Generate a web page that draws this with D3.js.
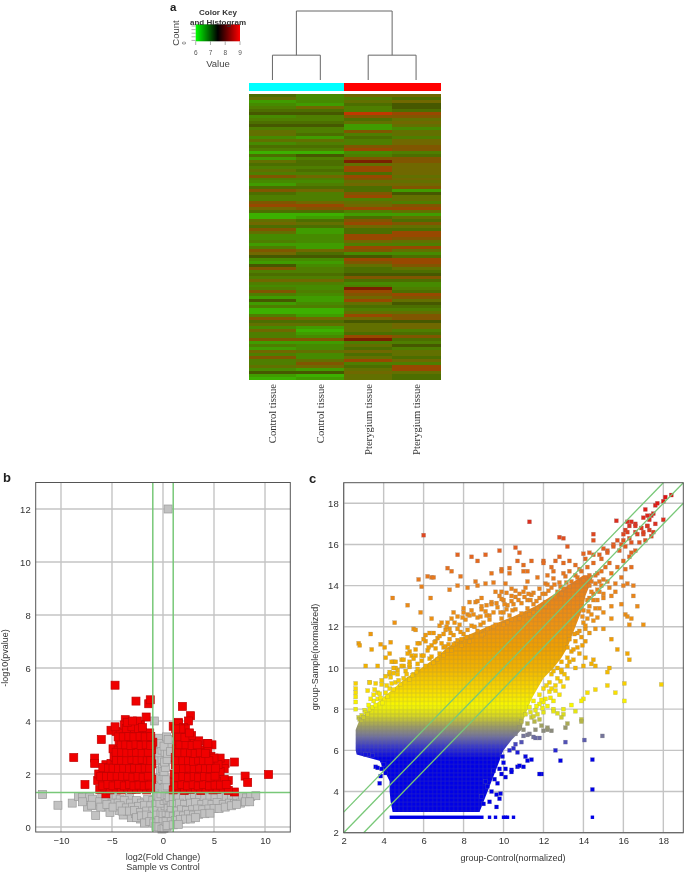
<!DOCTYPE html>
<html><head><meta charset="utf-8">
<script src="https://cdn.jsdelivr.net/npm/d3@7"></script>
<style>html,body{margin:0;padding:0;background:#fff}svg{display:block;filter:blur(0.45px)}text{font-family:"Liberation Sans",Arial,sans-serif;fill:#333}</style>
</head><body><svg id="c" width="685" height="873"></svg>
<script>
// ---------- Panel a data ----------
const sampleLabels = ["Control tissue","Control tissue","Pterygium tissue","Pterygium tissue"];
const groupColors = ["#00ffff","#00ffff","#ff0000","#ff0000"];
const keyTicks = [6,7,8,9];
const heatLevels = [0,1,2,3,4,5,6,7,8,9,10,11];
const heatColors = ["#3cb000","#409c00","#468a00","#4e7e00","#4c6e00","#627000","#706800","#805600","#984800","#c03800","#465800","#7a2000"];
const col1 = [4,5,1,2,3,4,10,2,3,4,10,3,5,5,2,5,2,4,3,0,4,1,5,4,
 3,5,3,7,3,2,1,4,7,4,3,3,7,8,6,4,0,0,5,6,4,7,5,2,
 2,3,1,3,7,6,10,2,1,10,7,3,4,3,6,3,2,3,7,3,1,10,1,3,
 0,0,3,7,4,5,2,6,3,3,7,1,3,1,6,3,7,3,3,5,2,10,1,0];
const col2 = [2,2,2,1,6,4,10,3,3,4,10,3,3,4,1,5,3,4,3,0,10,3,4,4,
 3,4,3,6,3,2,3,4,6,3,3,3,6,8,7,4,0,1,4,5,4,1,1,2,
 2,2,1,1,6,4,10,2,1,2,3,3,4,3,6,3,2,2,3,2,1,1,2,3,
 0,0,1,6,4,5,1,0,1,2,7,1,2,2,5,2,2,5,7,6,1,10,0,1];
const col3 = [6,3,5,4,3,3,9,7,4,5,1,1,7,3,4,3,3,7,8,2,3,7,11,5,
 8,8,4,8,7,5,6,4,4,7,8,3,5,6,8,3,1,4,7,8,6,4,4,8,
 8,6,3,8,7,2,10,8,7,5,4,4,10,7,4,2,3,11,8,7,6,8,5,4,
 3,5,8,6,10,5,5,5,4,8,11,3,5,4,6,4,5,8,3,4,5,6,5,5];
const col4 = [6,4,6,10,10,4,8,7,5,6,5,2,5,5,3,6,6,7,7,3,4,7,7,6,
 6,6,6,5,6,5,6,7,1,10,5,5,3,7,8,5,1,5,4,7,5,4,8,8,
 7,5,3,8,5,2,4,8,8,7,5,4,10,7,4,2,2,3,4,8,7,5,10,4,
 3,5,7,7,10,6,6,3,4,7,4,3,10,3,5,5,4,6,3,8,8,5,4,4];
// dendrogram merges: [left position, right position, base height, top height]
const merges = [[0.5,1.5,0,0.36],[2.5,3.5,0,0.36],[1,3,0.36,1]];

// ---------- Panel b data ----------
const volcanoXTicks = [-10,-5,0,5,10];
const volcanoYTicks = [0,2,4,6,8,10,12];
const redPts = [[-4.7,5.35],[-2.65,4.75],[-1.4,4.65],[-1.25,4.8],[1.9,4.55],[2.7,4.2],[2.5,4.0],[1.5,3.95],[-1.65,4.15],[-3.7,4.05],[-8.75,2.62],[-6.7,2.6],[-6.7,2.4],[-6.05,3.3],[-7.65,1.6],[10.35,1.98],[7.0,2.45],[8.05,1.92],[8.3,1.68],[7.0,1.32],[6.1,2.4],[5.6,2.6],[6.0,2.2],[6.4,1.75],[-5.6,1.25],[4.8,3.1],[4.3,3.15],
 [-6.2,1.42],[-5.7,1.5],[-5.2,1.4],[-4.6,1.45],[-4.1,1.4],[-3.5,1.48],[-3.1,1.42],[-2.6,1.42],[-2.1,1.45],[-1.6,1.4],[-1.2,1.48],
 [-6.4,1.75],[-5.9,1.7],[-5.4,1.78],[-4.9,1.72],[-4.3,1.8],[-3.9,1.7],[-3.4,1.78],[-2.9,1.72],[-2.4,1.7],[-1.9,1.76],[-1.4,1.72],[-1.1,1.8],
 [-6.3,2.0],[-5.8,2.1],[-5.3,2.02],[-4.8,2.08],[-4.2,2.0],[-3.7,2.05],[-3.2,2.1],[-2.7,2.0],[-2.2,2.06],[-1.7,2.02],[-1.2,2.1],
 [-5.6,2.35],[-5.1,2.4],[-4.7,2.32],[-4.1,2.38],[-3.6,2.3],[-3.0,2.42],[-2.6,2.35],[-2.0,2.4],[-1.5,2.34],[-1.1,2.38],
 [-4.8,2.65],[-4.3,2.7],[-3.8,2.62],[-3.3,2.68],[-2.8,2.7],[-2.3,2.64],[-1.8,2.7],[-1.2,2.62],
 [-4.9,2.95],[-4.4,2.9],[-3.9,3.0],[-3.3,2.92],[-2.9,2.98],[-2.3,2.9],[-1.7,2.96],[-1.1,2.92],
 [-4.3,3.25],[-3.9,3.2],[-3.4,3.3],[-2.9,3.2],[-2.4,3.28],[-1.9,3.22],[-1.4,3.3],[-1.0,3.2],
 [-5.1,3.65],[-4.6,3.6],[-4.2,3.55],[-3.6,3.5],[-3.1,3.6],[-2.5,3.52],[-2.0,3.58],[-1.3,3.55],
 [-4.7,3.78],[-3.8,3.85],[-3.3,3.95],[-2.8,3.7],[-2.2,3.85],[-2.5,4.0],
 [-5.9,1.55],[-5.4,1.6],[-4.9,1.55],[-4.35,1.6],[-3.8,1.55],[-3.3,1.6],[-2.85,1.55],[-2.35,1.58],[-1.85,1.55],[-1.35,1.58],
 [-6.1,1.9],[-5.55,1.9],[-5.05,1.9],[-4.5,1.92],[-3.95,1.9],[-3.45,1.92],[-2.95,1.88],[-2.45,1.9],[-1.95,1.88],[-1.45,1.92],
 [-5.9,2.25],[-5.35,2.22],[-4.9,2.22],[-4.35,2.2],[-3.85,2.22],[-3.3,2.2],[-2.8,2.22],[-2.3,2.2],[-1.75,2.22],[-1.3,2.22],
 [-4.55,2.52],[-4.05,2.52],[-3.55,2.5],[-3.05,2.55],[-2.55,2.52],[-2.05,2.55],[-1.55,2.52],[-1.2,2.5],
 [-4.6,2.82],[-4.05,2.82],[-3.55,2.8],[-3.05,2.82],[-2.6,2.82],[-2.05,2.8],[-1.45,2.82],
 [-4.1,3.1],[-3.65,3.1],[-3.15,3.08],[-2.65,3.12],[-2.15,3.08],[-1.65,3.1],[-1.2,3.08],
 [-4.4,3.4],[-3.9,3.4],[-3.35,3.42],[-2.85,3.4],[-2.25,3.42],[-1.75,3.4],[-1.2,3.42],
 [-3.6,3.72],[-3.05,3.78],[-2.4,3.72],[-2.0,3.75],[-3.5,3.95],[-3.0,4.0],
 [1.0,1.4],[1.6,1.45],[2.1,1.38],[2.7,1.42],[3.2,1.45],[3.7,1.38],[4.2,1.45],[4.9,1.4],[5.3,1.42],[5.9,1.45],[6.4,1.38],
 [1.1,1.7],[1.7,1.75],[2.2,1.72],[2.8,1.78],[3.3,1.7],[3.8,1.76],[4.4,1.7],[4.9,1.78],[5.4,1.72],[6.0,1.8],
 [1.1,2.0],[1.5,2.05],[2.1,2.02],[2.6,2.08],[3.2,2.0],[3.7,2.06],[4.2,2.0],[4.7,2.08],[5.2,2.02],[5.6,2.1],
 [1.2,2.35],[1.8,2.3],[2.3,2.38],[2.8,2.32],[3.3,2.38],[3.9,2.3],[4.4,2.36],[4.9,2.3],[5.4,2.35],
 [1.2,2.62],[1.6,2.68],[2.2,2.6],[2.7,2.66],[3.2,2.6],[3.7,2.68],[4.2,2.62],[4.7,2.66],[5.0,2.6],
 [1.3,2.95],[1.9,2.9],[2.4,2.98],[2.9,2.92],[3.4,2.96],[3.9,2.9],[4.4,2.95],
 [1.4,3.25],[2.0,3.22],[2.6,3.28],[3.1,3.2],[3.5,3.25],[4.4,3.15],
 [1.3,3.55],[1.8,3.5],[2.4,3.48],[2.8,3.45],
 [1.0,3.8],[1.5,3.9],[2.0,3.75],[2.2,3.7],
 [1.3,1.55],[1.85,1.6],[2.4,1.55],[2.95,1.6],[3.45,1.55],[3.95,1.6],[4.55,1.55],[5.1,1.58],[5.65,1.58],[6.2,1.6],
 [1.4,1.88],[1.95,1.9],[2.5,1.88],[3.05,1.9],[3.5,1.88],[4.05,1.9],[4.6,1.88],[5.1,1.92],
 [1.4,2.2],[2.0,2.2],[2.55,2.22],[3.05,2.2],[3.6,2.22],[4.15,2.2],[4.65,2.2],[5.15,2.22],
 [1.4,2.5],[1.95,2.5],[2.5,2.5],[3.0,2.48],[3.5,2.52],[3.95,2.5],[4.5,2.5],
 [1.55,2.8],[2.15,2.8],[2.7,2.8],[3.15,2.78],[3.65,2.8],[4.15,2.78],
 [1.65,3.1],[2.25,3.1],[2.85,3.08],[3.35,3.1],
 [1.55,3.4],[2.15,3.38],[2.6,3.55],[1.75,3.7],[1.25,3.7]];
const grayPts = [[-11.8,1.22],[-10.3,0.82],[-8.9,0.9],[-8.3,1.15],[-7.9,1.12],[-7.4,0.75],[-7.2,1.12],[-6.6,0.43],[-6.5,0.8],[-6.0,1.12],[-5.6,0.75],[-5.3,1.1],[-5.2,0.55],[-4.8,0.85],[-4.6,1.12],[-4.3,0.62],[-4.2,1.05],[-3.9,0.45],[-3.7,0.82],[-3.5,0.6],[-3.3,1.1],[-3.1,0.35],[-2.9,0.8],[-2.7,0.5],[-2.4,0.95],[-2.2,0.3],[-2.0,0.6],[-1.8,0.2],[-1.7,0.75],[-1.5,0.4],[-1.3,0.95],[-1.0,0.22],[-0.8,0.6],
 [-7.9,0.95],[-6.9,1.05],[-6.2,0.95],[-5.6,0.95],[-5.0,0.9],[-4.4,0.9],[-3.8,1.0],[-3.2,0.9],[-2.6,1.0],[-2.1,0.9],[-1.5,1.05],[-1.0,1.0],[-0.5,1.1],
 [-7.0,0.82],[-6.1,0.75],[-5.5,0.85],[-4.9,0.75],[-4.2,0.8],[-3.6,0.72],[-3.0,0.75],[-2.4,0.78],[-1.8,0.82],[-1.2,0.8],[-0.7,0.85],
 [-4.0,0.6],[-3.3,0.6],[-2.8,0.62],[-2.2,0.55],[-1.6,0.6],[-1.0,0.6],[-0.6,0.62],[-2.6,0.35],[-2.1,0.42],[-1.6,0.45],[-1.1,0.4],[-0.6,0.45],[-0.2,0.5],[-1.8,0.15],[-1.3,0.2],[-0.9,0.15],[-0.4,0.25],[0.0,0.2],[0.4,0.25],
 [-0.7,0.02],[-0.4,0.0],[-0.1,-0.08],[0.1,-0.05],[0.4,0.0],[0.7,0.08],[0.0,0.5],[0.3,0.55],[-0.1,0.75],[0.2,0.8],[0.5,0.75],[0.7,0.5],[-0.3,0.9],[0.1,1.0],[0.4,1.05],[0.8,0.9],
 [-0.6,1.2],[-0.4,1.15],[-0.2,1.25],[0.2,1.18],[0.4,1.22],[0.6,1.3],[-0.4,1.5],[-0.2,1.55],[0.0,1.45],[0.2,1.5],[0.4,1.55],[-0.3,1.85],[-0.1,1.8],[0.1,1.9],[0.3,1.78],[-0.25,2.15],[-0.05,2.2],[0.1,2.1],[0.25,2.25],[-0.35,2.5],[-0.1,2.55],[0.15,2.45],[0.4,2.55],[-0.6,2.85],[-0.35,2.8],[-0.1,2.9],[0.2,2.82],[0.45,2.78],[-0.6,3.15],[0.55,3.1],[-0.5,3.3],[-0.4,3.35],[-0.2,3.15],[0.1,3.05],[0.35,3.4],[0.5,3.3],
 [0.5,12],[-0.85,4.0],[0.75,2.85],
 [0.6,1.12],[1.0,1.1],[1.5,1.12],[2.0,1.15],[2.6,1.12],[3.1,1.15],[3.6,1.1],[4.1,1.15],[4.6,1.12],[5.1,1.1],[5.7,1.15],[6.2,1.1],[6.7,1.15],[7.2,1.12],[7.8,1.15],[8.2,1.1],[8.6,1.15],[9.1,1.18],
 [1.0,0.85],[1.6,0.9],[2.1,0.85],[2.7,0.9],[3.2,0.92],[3.8,0.85],[4.3,0.9],[4.8,0.85],[5.3,0.92],[5.9,0.85],[6.5,0.9],[7.0,0.88],[7.6,0.9],[8.1,0.95],[8.5,0.95],
 [0.8,0.62],[1.3,0.6],[1.8,0.65],[2.3,0.62],[2.9,0.65],[3.4,0.68],[3.9,0.65],[4.5,0.68],[5.0,0.7],[5.5,0.7],[6.1,0.75],[6.7,0.8],[7.2,0.85],
 [0.6,0.42],[1.0,0.4],[1.5,0.45],[2.0,0.42],[2.5,0.48],[3.0,0.45],[3.5,0.48],[4.1,0.5],[4.6,0.52],[0.3,0.2],[0.8,0.2],[1.2,0.25],[1.7,0.28],[2.2,0.3],[2.7,0.3],[3.2,0.35],[0.4,0.05],[1.0,0.08],[1.5,0.1]];

// ---------- Panel c data ----------
const scatterTicks = [2,4,6,8,10,12,14,16,18];
const cBandY  = [3,3.5,4,4.5,5,5.5,5.8,6,6.5,7,7.5,8,8.5,9,9.5,10,10.5,11,11.5,12,12.5,13,13.5,14,14.5];
const cBandX0 = [4.45,4.35,4.3,4.3,4.05,3.8,2.65,2.6,2.6,2.6,2.8,3.3,3.9,4.5,5.1,5.9,6.6,7.2,8.0,9.2,10.5,11.6,12.4,13.2,14.0];
const cBandX1 = [8.8,9.0,9.2,9.4,9.6,9.8,9.9,10.0,10.4,10.9,11.0,11.2,11.4,11.7,12.0,12.5,12.9,13.2,13.4,13.6,13.8,14.0,14.1,14.3,14.5];
const bottomRowX = [9.3,9.6,10.0,10.1,10.2,10.5,14.45];
const bottomRowSpan = [4.3,9.0];
const bottomRowY = 2.75;
const cColorY = [2,5.6,6.2,6.7,7.2,7.7,8.2,9,10,11,12,14,16,17,18.5];
const cColorC = ["#0000e6","#0000e6","#3a3ac8","#75759a","#a0a060","#d8d820","#f8f800","#f8d800","#f2b400","#f0a000","#ee9410","#e8801c","#e25a20","#dc3020","#e01010"];
const cOutliers = [[6.0,16.45],[11.3,17.1],[12.8,16.35],[13,16.3],[13.2,15.9],[14.5,16.5],[14.5,16.2],[15.65,17.15],[16.2,17.1],[16.4,17.1],[16.6,17],[17,17.3],[17.2,17.4],[17.4,17.4],[17.1,17.7],[17.6,17.9],[17.7,18],[18,18.1],[18.1,18.3],[18.4,18.4],[17.3,17.2],[17.5,17.5],[16.1,16.7],[16,16.5],[16.3,16.3],[16.7,16.5],[17.0,16.5],[17.3,16.7],[17.4,16.4],[17.2,16.9],[17.6,17],[18,17.2],[16.6,16.9],[16.3,16.9],
 [7.7,15.5],[8.4,15.4],[8.7,15.2],[9.1,15.5],[9.8,15.7],[10.6,15.85],[10.8,15.6],[10.7,15.2],[11,15],[11.4,15.2],[12,15.2],[12,15.1],[11.0,14.7],[11.2,14.7],[9.9,14.8],[9.9,14.7],[9.4,14.6],[10.3,14.85],[10.3,14.6],[7.2,14.85],[7.4,14.7],[6.2,14.45],[6.4,14.4],[6.5,14.4],[5.75,14.3],[5.9,13.95],[7.85,14.45],[7.3,13.8],[7.7,14.0],[8.2,13.9],[8.6,14.2],[8.7,14],[9.1,14.1],[9.5,14.15],[10.1,14.1],[4.45,13.4],[5.2,13.05],[6.35,13.4],[5.85,12.7],[4.55,12.2],[3.35,11.65],[2.75,11.2],[2.8,11.1],
 [12.4,14.9],[12.5,14.7],[12.6,15.2],[12.8,15.4],[13.0,15.1],[13.3,15.2],[13.6,15.0],[14.0,15.55],[14.1,15.3],[14.3,15.6],[14.5,15.5],[14.8,15.5],[15.0,15.8],[15.2,15.7],[15.5,16.0],[15.7,16.2],[15.9,16.0],[16.0,16.2],[16.2,16.6],[16.4,16.1],[16.6,16.6],[16.9,16.8],[17.0,16.6],[17.2,16.9],[17.5,16.6],
 [13.6,14.5],[13.9,14.7],[14.2,14.9],[14.5,15.1],[14.9,15.3],[15.2,15.6],[15.5,15.9],[15.8,15.7],[16.1,15.9],[16.4,15.6],[16.8,16.1],[17.1,16.2],
 [14.4,14.2],[14.6,14.5],[14.7,14.6],[14.9,14.7],[15.1,14.9],[15.3,15.1],[15.7,14.9],[16.0,15.2],[16.3,15.4],[16.6,15.7],[15.0,14.3],[15.4,14.6],[15.2,14.2],[14.9,14.0],[15.6,14.1],[15.9,14.4],[16.1,14.8],[16.4,14.9],[16.0,14.0],[16.2,14.1],[16.5,14.0],[15.6,13.7],[14.8,13.7],[14.5,13.6],[14.3,13.4],[14.7,13.3],[15.0,13.4],
 [17,12.1],[16.4,12.4],[16.1,12.6],[16.3,12.1],[16.2,12.5],[16.7,13],[15.9,13.1],[16.5,13.5],[15.4,13],[15.4,12.4],[15,12.7],[14.8,12.9],[15,11.9],[14.6,11.9],[15.7,10.9],[16.2,10.7],[16.3,10.4],[15.4,11.4],[15.3,10],[14.5,10.4],[14.1,10.5],[14.4,10.2],[14.6,10.1],[14,10.1],[13.2,11],[15.2,9.8],[14.2,8.8],[14.6,8.95],[15.2,9.15],[15.6,8.8],[16.05,9.25],[16.05,8.4],[17.9,9.2],[14,8.5],[13.9,8.4],[13.4,8.2],[13.6,7.9],[13,8],[13,7.75],[13.9,7.5],[13.9,7.4],[13.2,7.3],[13.1,7.1],[14.05,6.5],[14.95,6.7],[13.1,6.4],[12.6,6],[12.85,5.5],[14.45,5.55],[14.45,4.1],[11.9,4.85],[11.8,4.85],[11.4,5.55],[11.2,5.5],[11.1,5.7],[10.7,5.2],[10.8,5.25],[11,5.2],[10.4,5.05],[10.4,4.95],[10.1,5.1],[10.7,5.9],
 [11.2,6.75],[11.5,6.65],[11.6,6.6],[11.8,6.6],[12,6.95],[12.2,7.0],[12.4,6.95],[11.9,7.2],[12.2,7.1],[12.5,8.0],[12.7,7.8],[12.9,7.6],[12.5,7.9],[11.6,7.0],[11.3,6.8],[11.0,6.7],[10.9,6.4],[10.6,6.3],[10.5,6.1],[10.3,6.0],
 [9.2,4.25],[9.65,3.85],[9.8,3.65],[8.9,3.75],[9.3,3.5],[9.65,3.25],[9.0,3.4],[9.4,4.0],[9.85,3.9],[9.1,4.5],[9.55,4.6],[9.8,5.1],[10.0,5.4],[10.1,4.7],[9.9,4.85],[9.7,4.4],[9.5,5.0],[9.95,5.7],
 [3.85,4.75],[3.8,4.4],[3.6,5.2],[3.7,5.15],[3.9,5.1],[4.1,4.9],[4.0,5.3],[3.45,5.75],[3.25,5.8],[3.1,5.8],
 [2.6,9.25],[2.6,9.0],[2.6,8.8],[2.6,8.6],[2.6,8.35],[2.6,8.0],[2.75,7.6],[2.8,7.5],[2.9,7.45],[3.05,7.95],[3.25,8.2],[3.5,8.7],[3.7,8.8],[3.9,9.2],[3.3,9.3],[3.6,9.25],[3.9,9.4],[4.1,9.6],[4.3,9.7],[4.5,9.75],[4.7,9.9],[5.0,10.1],[5.3,10.3],[5.6,10.6],
 [3.1,10.1],[3.4,10.9],[3.85,11.15],[4.05,11.0],[4.3,10.7],[4.35,11.25],[4.5,10.3],[4.9,10.4],[5.2,11.0],[5.4,10.6],[5.5,11.9],[5.8,11.2],[6.1,11.6],[6.3,11.7],[6.6,11.3],[7.0,11.0],[7.3,11.9],[7.6,11.2],
 [3.2,8.9],[3.3,9.3],[3.7,10.1],[4.1,10.5],[4.4,10.3],[4.6,10.0],[5.3,10.8],[5.6,11.85],[6.1,11.3],[6.4,12.4],[6.8,12.05],[7.2,12.2],[7.7,12.5],[8.0,12.7],[8.4,12.8],[8.9,13.0],[9.4,13.2],[10.0,13.3],[10.4,13.5],[11.0,13.7]];
const cUpperFringe = [[4.3,9.8],[4.5,10.0],[4.7,9.7],[4.9,10.1],[5.1,9.85],[5.3,10.05],[5.5,9.7],[5.7,9.95],
 [4.6,10.3],[5.0,10.4],[5.3,10.15],[5.5,10.45],[5.7,10.2],[5.9,10.35],[6.1,10.1],[6.3,10.45],[6.5,10.25],
 [5.2,10.7],[5.6,10.9],[5.9,10.6],[6.2,10.85],[6.4,10.55],[6.6,10.95],[6.8,10.7],[7.0,10.6],[7.2,10.85],
 [5.7,11.2],[6.0,11.4],[6.4,11.1],[6.7,11.45],[6.9,11.2],[7.1,11.05],[7.3,11.4],[7.5,11.15],[7.7,11.35],[7.9,11.1],
 [6.5,11.7],[6.8,11.55],[7.1,11.85],[7.5,11.6],[7.7,11.9],[8.0,11.65],[8.2,11.85],[8.4,11.55],[8.7,11.8],[9.0,11.65],
 [6.9,12.2],[7.4,12.4],[7.8,12.1],[8.1,12.35],[8.4,12.05],[8.7,12.45],[9.0,12.2],[9.3,12.35],[9.6,12.1],[9.9,12.4],[10.2,12.2],
 [7.5,12.7],[8.0,12.9],[8.5,12.6],[8.9,12.85],[9.3,12.55],[9.7,12.95],[10.0,12.7],[10.3,12.55],[10.6,12.85],[10.9,12.65],[11.2,12.9],[11.5,12.7],
 [8.3,13.2],[8.9,13.4],[9.4,13.1],[9.9,13.35],[10.2,13.05],[10.6,13.45],[10.9,13.15],[11.2,13.3],[11.5,13.1],[11.8,13.4],[12.1,13.2],
 [9.9,13.7],[10.4,13.85],[10.8,13.6],[11.1,13.9],[11.5,13.65],[11.8,13.85],[12.1,13.6],[12.4,13.9],[12.7,13.7],[13.0,13.85],
 [11.2,14.2],[11.7,14.4],[12.1,14.1],[12.5,14.35],[12.8,14.15],[13.1,14.45],[13.4,14.2],[13.7,14.4],[14.0,14.25],[14.3,14.5],
 [8.2,12.6],[8.6,13.2],[9.1,12.75],[9.8,13.5],[10.5,13.1],[11.4,13.55],[12.2,14.05],[13.3,14.7],[13.8,14.8],[13.0,14.6],[12.2,14.5],
 [6.0,10.6],[6.7,10.4],[7.4,10.85],[7.9,11.4],[8.3,11.3],[8.9,11.6],[9.5,12.0],[10.0,12.1],[10.4,12.35],[10.8,12.4],[11.3,12.6],[11.7,12.9],[12.1,13.0],[12.6,13.45],[12.9,13.6],[13.3,13.95],
 [6.25,11.0],[6.55,11.25],[7.25,11.15],[7.0,11.65],[7.35,11.7],[7.85,11.75],[8.15,11.5],[8.55,12.0],[8.85,12.1],[9.2,11.9],[7.15,12.0],[7.55,12.2],[7.95,12.45],[8.3,12.55],[8.85,12.5],[9.15,12.55],[9.5,12.7],[9.85,12.7],[10.15,12.85],[10.45,12.8],[8.7,13.25],[9.15,13.05],[9.65,13.15],[10.05,13.1],[10.4,13.25],[10.75,13.3],[11.05,13.45],[11.35,13.3],[11.65,13.25],[11.95,13.6],[12.25,13.75],[12.55,14.05],[12.85,13.95],[13.15,14.15],[9.6,13.7],[10.15,13.65],[10.6,13.75],[11.25,13.6]];
const cLowerFringe = [[14.3,14.0],[14.4,13.7],[14.5,13.3],[14.3,13.0],[14.6,12.9],[14.4,12.6],[14.2,12.4],[14.0,12.2],[14.5,12.3],[14.1,11.9],[13.8,11.8],[14.3,11.7],[13.9,11.5],[13.6,11.3],[14.1,11.3],[13.7,11.0],[13.4,10.8],[13.8,10.7],[13.2,10.5],[13.5,10.4],[12.9,10.3],[13.2,10.1],[13.6,10.0],[12.7,10.0],[12.9,9.8],[12.4,9.7],[12.7,9.5],[13.2,9.5],[12.3,9.3],[12.6,9.15],[13.0,9.1],[12.0,9.0],[12.3,8.85],[12.8,8.7],[11.8,8.7],[12.1,8.5],[12.5,8.4],[11.5,8.4],[11.8,8.25],[12.2,8.15],[11.3,8.1],[11.6,7.95],[12.0,7.85],[11.1,7.75],[11.4,7.6],[11.8,7.5],[10.9,7.4],[11.2,7.3],[10.8,7.1],[11.0,7.0],[10.6,6.8],
 [14.6,14.1],[14.8,14.2],[13.9,13.0],[14.0,12.8],[14.2,13.3],[13.7,11.7],[13.3,11.4],[12.9,9.9],[12.4,9.0],[12.0,8.35],[11.5,7.65],[14.7,13.8],[15.0,13.6],[15.3,13.9],[15.4,13.5],
 [13.95,12.5],[14.25,12.75],[14.7,12.45],[14.1,12.05],[13.55,11.65],[13.95,11.1],[13.5,10.9],[13.3,10.3],[13.05,9.7],[12.85,9.35],[12.5,9.85],[12.15,9.15],[12.6,8.9],[12.35,8.55],[11.9,8.45],[11.65,8.15],[11.95,8.05],[11.7,7.75],[11.35,7.85],[11.55,7.4]];
const cLeftFringe = [[2.9,7.7],[3.0,7.6],[3.1,7.85],[3.2,7.75],[3.3,8.0],[3.45,8.1],[3.6,8.2],[3.5,8.4],[3.7,8.5],[3.85,8.55],[3.95,8.3],[3.8,8.75],[4.1,8.8],[4.2,8.6],[4.3,9.0],[4.4,9.25],[4.5,8.95],[4.6,9.3],[4.75,9.4],[4.85,9.2],[5.0,9.5],[5.15,9.7],[5.3,9.45],[5.45,9.65],[5.65,9.8],[4.15,9.15],[4.35,9.55],[3.55,8.95],[3.35,8.5]];

// ---------- Drawing ----------
const svg = d3.select("#c");
const defs = svg.append("defs");
const gridCol="#c4c4c4", frameCol="#555", lineGreen="#78c878";
const tickFont=9.5;

function label(x,y,s,opt={}){
  const t=svg.append("text").attr("x",x).attr("y",y).text(s)
    .attr("font-size",opt.size||9.5).attr("text-anchor",opt.anchor||"middle");
  if(opt.weight)t.attr("font-weight",opt.weight);
  if(opt.family)t.style("font-family",opt.family);
  if(opt.rot!==undefined)t.attr("transform",`rotate(${opt.rot} ${x} ${y})`);
  if(opt.fill)t.style("fill",opt.fill);
  return t;
}

// panel a
label(170,10.5,"a",{size:11.5,weight:"bold",anchor:"start",fill:"#222"});
const hx=d3.scaleBand().domain(d3.range(4)).range([248.5,440]);
const rows=d3.range(col1.length);
const hy=d3.scaleBand().domain(rows).range([94.3,379.6]);
const heat=d3.scaleOrdinal().domain(heatLevels).range(heatColors);
[col1,col2,col3,col4].forEach((col,c)=>{
  svg.append("g").attr("shape-rendering","crispEdges").selectAll("rect").data(col).join("rect")
    .attr("x",hx(c)).attr("width",hx.bandwidth()+0.5).attr("y",(d,i)=>hy(i)).attr("height",hy.bandwidth()+0.3)
    .attr("fill",d=>heat(d));
});
svg.append("g").attr("shape-rendering","crispEdges").selectAll("rect").data(groupColors).join("rect")
  .attr("x",(d,i)=>hx(i)).attr("width",hx.bandwidth()+0.5).attr("y",82.7).attr("height",8).attr("fill",d=>d);
const dendroY=d3.scaleLinear().domain([0,1]).range([80,11]);
const dendroX=d3.scaleLinear().domain([0,4]).range([248.5,440]);
svg.append("g").attr("fill","none").attr("stroke","#666").attr("stroke-width",1)
 .selectAll("path").data(merges).join("path")
 .attr("d",m=>`M${dendroX(m[0])},${dendroY(m[2])}V${dendroY(m[3])}H${dendroX(m[1])}V${dendroY(m[2])}`);
// color key
const keyX=d3.scaleLinear().domain([6,9]).range([195.7,240]);
const kg=defs.append("linearGradient").attr("id","key");
[["0%","#00ff00"],["50%","#000"],["100%","#ff0000"]].forEach(s=>kg.append("stop").attr("offset",s[0]).attr("stop-color",s[1]));
svg.append("rect").attr("x",keyX(6)).attr("y",24.3).attr("width",keyX(9)-keyX(6)).attr("height",17).attr("fill","url(#key)");
const keyAxis=svg.append("g").attr("stroke","#777").attr("stroke-width",.6);
keyAxis.selectAll("line.x").data(keyTicks).join("line").attr("class","x").attr("x1",keyX).attr("x2",keyX).attr("y1",41.3).attr("y2",45);
keyAxis.selectAll("line.y").data([0,1,2,3,4]).join("line").attr("class","y").attr("x1",191.5).attr("x2",195.7).attr("y1",d=>26+d*3.6).attr("y2",d=>26+d*3.6);
keyTicks.forEach(t=>label(keyX(t),55,t,{size:6.5,fill:"#555"}));
label(218,67,"Value",{size:9.5,fill:"#444"});
label(179,33,"Count",{size:9.5,rot:-90,fill:"#444"});
label(186,43,"0",{size:5.5,rot:-90,fill:"#444"});
label(218,15,"Color Key",{size:8,weight:"bold",fill:"#333"});
label(218,25,"and Histogram",{size:8,weight:"bold",fill:"#333"});
sampleLabels.forEach((s,i)=>label(hx(i)+hx.bandwidth()/2+3.5,384,s,{size:10.6,anchor:"end",rot:-90,family:'"Liberation Serif",serif',fill:"#333"}));

// panel b
label(3,482,"b",{size:13,weight:"bold",anchor:"start",fill:"#222"});
const bx=d3.scaleLinear().domain([-12.48,12.48]).range([35.7,290.3]);
const by=d3.scaleLinear().domain([-0.19,13]).range([832,482.5]);
const bg=svg.append("g");
function grid(g,x,y,xt,yt){
  g.append("g").selectAll("line").data(xt).join("line").attr("x1",x).attr("x2",x).attr("y1",y.range()[0]).attr("y2",y.range()[1]).attr("stroke",gridCol).attr("stroke-width",1.4);
  g.append("g").selectAll("line").data(yt).join("line").attr("y1",y).attr("y2",y).attr("x1",x.range()[0]).attr("x2",x.range()[1]).attr("stroke",gridCol).attr("stroke-width",1.4);
}
function axes(g,x,y,xt,yt,xFmt){
  const ax=d3.axisBottom(x).tickValues(xt).tickSize(0).tickPadding(5).tickFormat(xFmt);
  const ay=d3.axisLeft(y).tickValues(yt).tickSize(0).tickPadding(5);
  const A=g.append("g").attr("transform",`translate(0,${y.range()[0]})`).call(ax);
  const B=g.append("g").attr("transform",`translate(${x.range()[0]},0)`).call(ay);
  [A,B].forEach(s=>{s.select(".domain").remove();s.selectAll("text").attr("font-size",tickFont).style("font-family",'"Liberation Sans",Arial,sans-serif');});
  g.append("rect").attr("x",x.range()[0]).attr("y",y.range()[1]).attr("width",x.range()[1]-x.range()[0]).attr("height",y.range()[0]-y.range()[1]).attr("fill","none").attr("stroke",frameCol).attr("stroke-width",1);
}
grid(bg,bx,by,volcanoXTicks,volcanoYTicks);
const sq=8;
bg.append("g").selectAll("rect").data(grayPts).join("rect")
  .attr("x",d=>bx(d[0])-sq/2).attr("y",d=>by(d[1])-sq/2).attr("width",sq).attr("height",sq)
  .attr("fill","#c2c2c2").attr("stroke","#9a9a9a").attr("stroke-width",.7);
bg.append("g").selectAll("rect").data(redPts).join("rect")
  .attr("x",d=>bx(d[0])-sq/2).attr("y",d=>by(d[1])-sq/2).attr("width",sq).attr("height",sq)
  .attr("fill","#f00000").attr("stroke","#c00000").attr("stroke-width",.7);
const bl=bg.append("g").attr("stroke",lineGreen).attr("stroke-width",1.5);
[-1,1].forEach(v=>bl.append("line").attr("x1",bx(v)).attr("x2",bx(v)).attr("y1",by.range()[0]).attr("y2",by.range()[1]));
bl.append("line").attr("x1",bx.range()[0]).attr("x2",bx.range()[1]).attr("y1",by(1.3)).attr("y2",by(1.3));
axes(bg,bx,by,volcanoXTicks,volcanoYTicks,d=>d<0?"\u2212"+(-d):d);
label(163,859.5,"log2(Fold Change)",{size:9});
label(163,869.5,"Sample vs Control",{size:9});
label(8,658,"-log10(pvalue)",{size:9,rot:-90});

// panel c
label(309,483,"c",{size:13,weight:"bold",anchor:"start",fill:"#222"});
const cx=d3.scaleLinear().domain([2,19]).range([343.7,683.3]);
const cy=d3.scaleLinear().domain([2,19]).range([832.7,482.7]);
const cColor=d3.scaleLinear().domain(cColorY).range(cColorC).clamp(true);
const cg=svg.append("g");
grid(cg,cx,cy,scatterTicks,scatterTicks);
const grad=defs.append("linearGradient").attr("id","bodyGrad").attr("gradientUnits","userSpaceOnUse")
  .attr("x1",0).attr("x2",0).attr("y1",cy(2)).attr("y2",cy(19));
cColorY.forEach((v,i)=>grad.append("stop").attr("offset",Math.min(1,(v-2)/17)).attr("stop-color",cColorC[i]));
const pat=defs.append("pattern").attr("id","mesh").attr("patternUnits","userSpaceOnUse").attr("width",4.2).attr("height",4.2);
pat.append("rect").attr("width",4.2).attr("height",4.2).attr("fill","none").attr("stroke","rgba(110,110,110,.28)").attr("stroke-width",.7);
const bodyArea=d3.area().y(i=>cy(cBandY[i])).x0(i=>cx(cBandX0[i])).x1(i=>cx(cBandX1[i]));
cg.append("path").attr("d",bodyArea(d3.range(cBandY.length))).attr("fill","url(#bodyGrad)");
cg.append("path").attr("d",bodyArea(d3.range(cBandY.length))).attr("fill","url(#mesh)");
const ms=4;
cg.append("rect").attr("x",cx(bottomRowSpan[0])).attr("width",cx(bottomRowSpan[1])-cx(bottomRowSpan[0])).attr("y",cy(bottomRowY)-1.7).attr("height",3.4).attr("fill",cColor(bottomRowY));
cg.append("g").selectAll("rect").data(bottomRowX).join("rect").attr("x",d=>cx(d)-1.7).attr("y",cy(bottomRowY)-1.7).attr("width",3.4).attr("height",3.4).attr("fill",cColor(bottomRowY));
cg.append("g").selectAll("rect").data(cOutliers.concat(cUpperFringe,cLowerFringe,cLeftFringe)).join("rect")
  .attr("x",d=>cx(d[0])-ms/2).attr("y",d=>cy(d[1])-ms/2).attr("width",ms).attr("height",ms)
  .attr("fill",d=>cColor(d[1])).attr("stroke","rgba(130,130,130,.5)").attr("stroke-width",.4);
const cl=cg.append("g").attr("stroke",lineGreen).attr("stroke-width",1.3);
[1,0,-1].forEach(o=>{
  const a=Math.max(2,2-o), b=Math.min(19,19-o);
  cl.append("line").attr("x1",cx(a)).attr("y1",cy(a+o)).attr("x2",cx(b)).attr("y2",cy(b+o));
});
axes(cg,cx,cy,scatterTicks,scatterTicks,d=>d);
label(513,861,"group-Control(normalized)",{size:9});
label(318,657,"group-Sample(normalized)",{size:9,rot:-90});
</script></body></html>
